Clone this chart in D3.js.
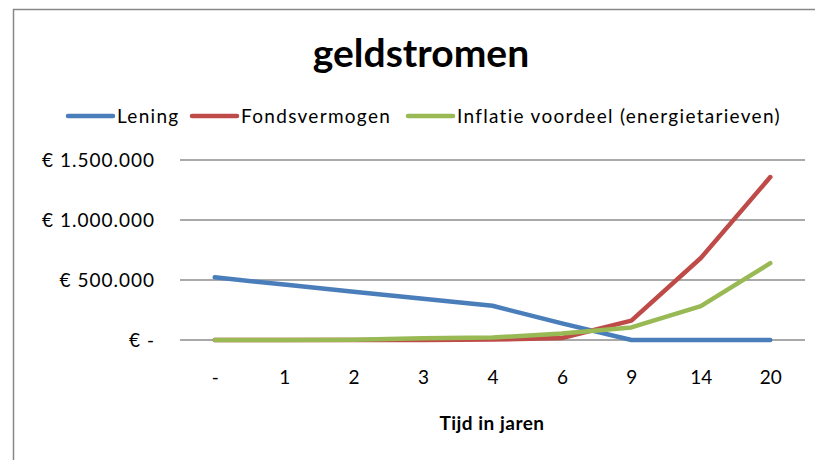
<!DOCTYPE html>
<head>
  <meta charset="utf-8">
  <title>geldstromen</title>
  <script src="https://d3js.org/d3.v7.min.js"></script>
  <style>
    body { margin: 0px; background: white; }
    text { font-family: Lato, "Open Sans", sans-serif; fill: black; }
    .title { font-size: 39px; font-weight: bold; }
    .legend text { font-size: 19px; letter-spacing: 1.3px; }
    .axis-title { font-size: 19px; font-weight: bold; letter-spacing: 0.5px; }
  </style>
</head>
<body>
  <svg width="815" height="460"></svg>
  <script>
    var categories = ["-", "1", "2", "3", "4", "6", "9", "14", "20"];
    var lening = [522000, 462000, 402000, 343000, 285000, 139000, 0, 0, 0];
    var fondsvermogen = [0, 0, 0, 0, 4000, 17000, 161000, 683000, 1358000];
    var inflatie = [0, 0, 2000, 15000, 20000, 55000, 105000, 283000, 640000];
    var seriesNames = ["Lening", "Fondsvermogen", "Inflatie voordeel (energietarieven)"];
    var yTicks = [0, 500000, 1000000, 1500000];

    var colors = ["#4A7EBB", "#BE4B48", "#98B954"];
    var series = [lening, fondsvermogen, inflatie];

    var svg = d3.select("svg");
    var plot = { left: 180, right: 805, top: 160, bottom: 340 };

    // frame
    svg.append("path")
      .attr("d", "M13.5,460 L13.5,9.5 L815,9.5")
      .attr("fill", "none")
      .attr("stroke", "#888")
      .attr("stroke-width", 1.5);

    svg.append("text")
      .attr("class", "title")
      .attr("x", 421)
      .attr("y", 67)
      .attr("text-anchor", "middle")
      .text("geldstromen");

    var x = d3.scalePoint()
      .domain(categories)
      .range([plot.left, plot.right])
      .padding(0.5);
    var y = d3.scaleLinear()
      .domain([0, 1500000])
      .range([plot.bottom, plot.top]);

    // gridlines
    svg.append("g")
      .selectAll("line")
      .data(yTicks)
      .enter()
      .append("line")
      .attr("x1", plot.left)
      .attr("x2", plot.right)
      .attr("y1", function(d) { return y(d); })
      .attr("y2", function(d) { return y(d); })
      .attr("stroke", "#8c8c8c")
      .attr("stroke-width", 1.5);

    // y axis labels
    var fmt = function(d) {
      if (d === 0) return "€ -";
      return "€ " + d3.format(",")(d).replace(/,/g, ".");
    };
    var yAxis = d3.axisLeft(y).tickValues(yTicks).tickFormat(fmt).tickSize(0).tickPadding(25);
    svg.append("g")
      .attr("class", "axis y")
      .attr("transform", "translate(" + plot.left + ",0)")
      .call(yAxis)
      .call(function(g) { g.select(".domain").remove(); });

    var xAxis = d3.axisBottom(x).tickSize(0).tickPadding(31);
    svg.append("g")
      .attr("class", "axis x")
      .attr("transform", "translate(0," + plot.bottom + ")")
      .call(xAxis)
      .call(function(g) { g.select(".domain").remove(); });

    svg.selectAll(".axis text")
      .style("font-family", "Lato, 'Open Sans', sans-serif")
      .style("font-size", "19px")
      .attr("fill", "black");
    svg.selectAll(".axis.y text").style("letter-spacing", "1px");

    svg.append("text")
      .attr("class", "axis-title")
      .attr("x", 492)
      .attr("y", 430)
      .attr("text-anchor", "middle")
      .text("Tijd in jaren");

    // lines
    var line = d3.line()
      .x(function(d, i) { return x(categories[i]); })
      .y(function(d) { return y(d); });

    svg.append("g")
      .selectAll("path")
      .data(series)
      .enter()
      .append("path")
      .attr("d", line)
      .attr("fill", "none")
      .attr("stroke", function(d, i) { return colors[i]; })
      .attr("stroke-width", 4.5)
      .attr("stroke-linejoin", "round")
      .attr("stroke-linecap", "round");

    // legend
    var legendPos = [68, 192, 408];
    var lg = svg.append("g").attr("class", "legend");
    var items = lg.selectAll("g")
      .data(seriesNames)
      .enter()
      .append("g")
      .attr("transform", function(d, i) { return "translate(" + legendPos[i] + ",116)"; });
    items.append("line")
      .attr("x1", 0).attr("x2", 45)
      .attr("y1", 0).attr("y2", 0)
      .attr("stroke", function(d, i) { return colors[i]; })
      .attr("stroke-width", 4.5)
      .attr("stroke-linecap", "round");
    items.append("text")
      .attr("x", 49)
      .attr("y", 7)
      .text(function(d) { return d; });
  </script>
</body>
</html>
